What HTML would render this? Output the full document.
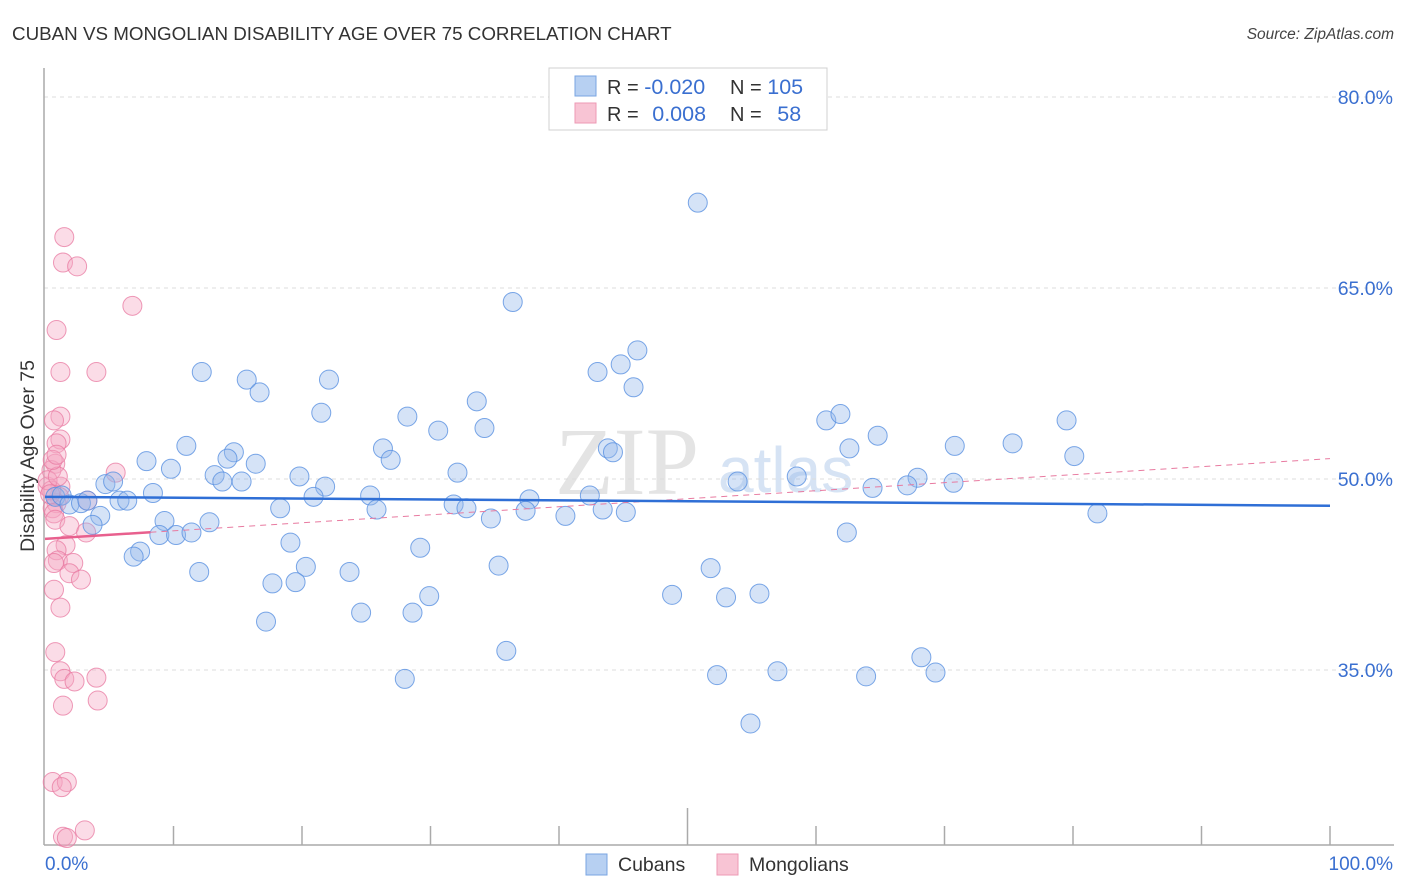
<!DOCTYPE html>
<html><head><meta charset="utf-8"><style>
body{margin:0;background:#fff;font-family:"Liberation Sans",sans-serif;}
svg{display:block}
</style></head><body>
<svg id="chart" width="1406" height="892">
<text x="12" y="40" font-size="18.8" fill="#333">CUBAN VS MONGOLIAN DISABILITY AGE OVER 75 CORRELATION CHART</text>
<text x="1394" y="39" font-size="15.5" fill="#444" font-style="italic" text-anchor="end">Source: ZipAtlas.com</text>
<g>
<text x="555" y="494" font-size="96" font-family="Liberation Serif,serif" fill="#e4e4e4">ZIP</text>
<text x="718" y="492" font-size="64" fill="#d6e3f4">atlas</text>
</g>
<g id="grid"></g>
<g id="axes"></g>
<g id="marks"></g>
<text transform="translate(34,456) rotate(-90)" font-size="19.5" fill="#333" text-anchor="middle">Disability Age Over 75</text>
<text x="45" y="870" font-size="19" fill="#3a6fd0">0.0%</text>
<text x="1393" y="870" font-size="19" fill="#3a6fd0" text-anchor="end">100.0%</text>
<g>
<rect x="549" y="68" width="278" height="62" fill="#fff" stroke="#d0d0d0"/>
<rect x="575" y="76" width="21" height="20" fill="#b7d0f2" stroke="#7aa5e2"/>
<rect x="575" y="103" width="21" height="20" fill="#f8c4d4" stroke="#ee9ab4"/>
<text x="607" y="94" font-size="20" fill="#333">R = <tspan fill="#3a6fd0" font-size="21.5">-0.020</tspan></text>
<text x="730" y="94" font-size="20" fill="#333">N = <tspan fill="#3a6fd0" font-size="21.5">105</tspan></text>
<text x="607" y="121" font-size="20" fill="#333">R = <tspan fill="#3a6fd0" dx="8" font-size="21.5">0.008</tspan></text>
<text x="730" y="121" font-size="20" fill="#333">N = <tspan fill="#3a6fd0" dx="10" font-size="21.5">58</tspan></text>
</g>
<g>
<rect x="586" y="854" width="21" height="21" fill="#b7d0f2" stroke="#7aa5e2"/>
<text x="618" y="871" font-size="19.5" fill="#333">Cubans</text>
<rect x="717" y="854" width="21" height="21" fill="#f8c4d4" stroke="#ee9ab4"/>
<text x="749" y="871" font-size="19.5" fill="#333">Mongolians</text>
</g>
</svg>
<script>
const yTicks=[80,65,50,35];
const yTickLabels=["80.0%","65.0%","50.0%","35.0%"];
const xTicks=[10,20,30,40,50,60,70,80,90,100];
const cubanX=[50.8,36.4,46.1,44.8,43.0,45.8,12.2,15.7,16.7,22.1,33.6,21.5,28.2,60.8,61.9,79.5,11.0,14.7,26.3,30.6,34.2,64.8,62.6,70.8,75.3,80.1,43.8,44.2,7.9,9.8,14.2,16.4,26.9,32.1,13.2,13.8,15.3,19.8,21.8,4.7,5.3,58.5,53.9,67.9,67.1,70.7,64.4,8.4,25.3,20.9,42.4,37.7,0.8,1.3,1.9,2.8,3.3,5.8,6.4,18.3,25.8,31.8,32.8,37.4,43.4,45.2,40.5,34.7,81.9,4.3,3.7,9.3,12.8,8.9,10.2,11.4,62.4,7.4,6.9,19.1,29.2,20.3,35.3,12.0,17.7,19.5,23.7,51.8,29.9,48.8,53.0,55.6,24.6,28.6,17.2,35.9,68.2,28.0,52.3,57.0,63.9,69.3,54.9];
const cubanY=[71.7,63.9,60.1,59.0,58.4,57.2,58.4,57.8,56.8,57.8,56.1,55.2,54.9,54.6,55.1,54.6,52.6,52.1,52.4,53.8,54.0,53.4,52.4,52.6,52.8,51.8,52.4,52.1,51.4,50.8,51.6,51.2,51.5,50.5,50.3,49.8,49.8,50.2,49.4,49.6,49.8,50.2,49.8,50.1,49.5,49.7,49.3,48.9,48.7,48.6,48.7,48.4,48.6,48.7,48.0,48.1,48.3,48.3,48.3,47.7,47.6,48.0,47.7,47.5,47.6,47.4,47.1,46.9,47.3,47.1,46.4,46.7,46.6,45.6,45.6,45.8,45.8,44.3,43.9,45.0,44.6,43.1,43.2,42.7,41.8,41.9,42.7,43.0,40.8,40.9,40.7,41.0,39.5,39.5,38.8,36.5,36.0,34.3,34.6,34.9,34.5,34.8,30.8];
const mongolX=[1.5,1.4,2.5,6.8,0.9,1.2,4.0,1.2,0.7,1.2,0.9,0.8,5.5,1.2,1.1,0.9,0.6,0.7,0.8,0.2,0.5,3.3,1.9,1.6,0.9,1.0,2.2,0.7,3.2,1.9,2.8,0.7,1.2,0.8,1.2,1.5,2.3,4.0,1.4,4.1,0.6,1.7,1.3,1.4,1.7,3.1,0.5,0.2,1.0,0.4,0.6,0.9];
const mongolY=[69.0,67.0,66.7,63.6,61.7,58.4,58.4,54.9,54.6,53.1,52.8,51.2,50.5,49.4,48.6,48.1,47.7,47.3,46.8,49.4,49.1,48.3,46.3,44.8,44.4,43.6,43.4,43.4,45.8,42.6,42.1,41.3,39.9,36.4,34.9,34.3,34.1,34.4,32.2,32.6,26.2,26.2,25.8,21.9,21.8,22.4,50.7,49.9,50.2,48.8,51.5,51.9];
const cubanTrend=[48.6,47.9];
const mongolTrend=[45.3,51.6];
const mongolSolidEnd=8.2;

const X=v=>45+v*12.85;
const Y=v=>97+(80-v)*12.733;
const NS="http://www.w3.org/2000/svg";
function mk(tag,attrs,parent){const e=document.createElementNS(NS,tag);for(const k in attrs)e.setAttribute(k,attrs[k]);parent.appendChild(e);return e;}
const grid=document.getElementById('grid'),axes=document.getElementById('axes'),marks=document.getElementById('marks');
yTicks.forEach((t,i)=>{
 const l=mk('line',{x1:44,x2:1394,y1:Y(t),y2:Y(t),stroke:'#dcdcdc','stroke-dasharray':'4,4'},grid);
 
 
 const tx=mk('text',{x:1393,y:Y(t)+7,'font-size':19.5,fill:'#3a6fd0','text-anchor':'end'},grid);
 tx.textContent=yTickLabels[i];
 
 
});
let a=mk('line',{x1:44,x2:44,y1:68,y2:845,stroke:'#aaa','stroke-width':1.5},axes);


a=mk('line',{x1:44,x2:1394,y1:845,y2:845,stroke:'#aaa','stroke-width':1.5},axes);


xTicks.forEach(t=>{
 const tk=mk('line',{x1:X(t),x2:X(t),y1:t===50?808:826,y2:845,stroke:'#aaa','stroke-width':1.5},axes);
 
 
});
mongolX.forEach((v,i)=>{
 const c=mk('circle',{cx:X(v),cy:Y(mongolY[i]),r:9.5,fill:'rgba(246,168,195,0.4)',stroke:'rgba(232,120,160,0.75)','stroke-width':1},marks);
 
 
});
cubanX.forEach((v,i)=>{
 const c=mk('circle',{cx:X(v),cy:Y(cubanY[i]),r:9.5,fill:'rgba(150,186,236,0.4)',stroke:'rgba(90,145,225,0.8)','stroke-width':1},marks);
 
 
});
const my=x=>mongolTrend[0]+(mongolTrend[1]-mongolTrend[0])*x/100;
let tl=mk('line',{x1:X(mongolSolidEnd),y1:Y(my(mongolSolidEnd)),x2:X(100),y2:Y(my(100)),stroke:'#e87aa0','stroke-width':1,'stroke-dasharray':'6,5'},marks);


tl=mk('line',{x1:X(0),y1:Y(my(0)),x2:X(mongolSolidEnd),y2:Y(my(mongolSolidEnd)),stroke:'#e8608e','stroke-width':2.5},marks);


tl=mk('line',{x1:X(0),y1:Y(cubanTrend[0]),x2:X(100),y2:Y(cubanTrend[1]),stroke:'#2f6fd6','stroke-width':2.5},marks);


</script>
</body></html>
